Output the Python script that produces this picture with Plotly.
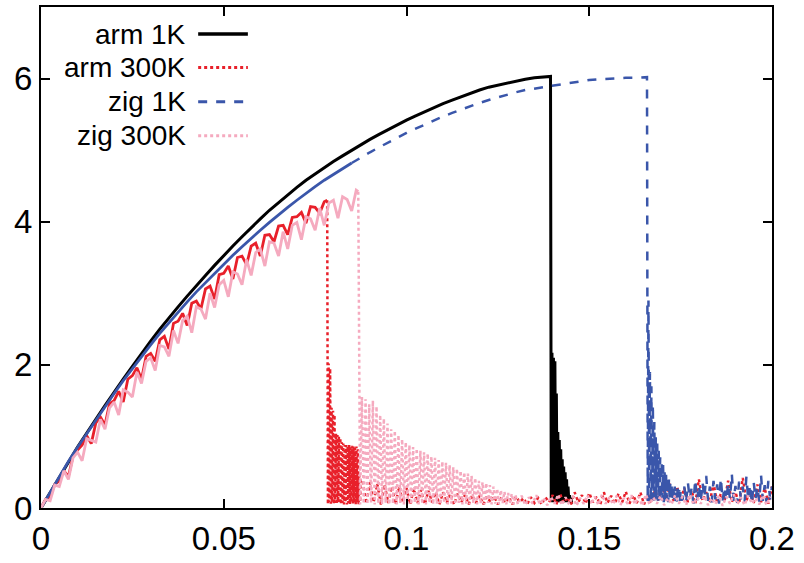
import plotly.graph_objects as go

# ---------------- data ----------------
# each series = list of segments (x_start, x_step, y_values)

arm1k_rise = [0, 0.22, 0.43, 0.64, 0.85, 1.05, 1.24, 1.43, 1.62, 1.80,
              1.98, 2.16, 2.33, 2.50, 2.66, 2.81, 2.96, 3.11, 3.25, 3.39,
              3.53, 3.66, 3.79, 3.92, 4.04, 4.16, 4.27, 4.38, 4.48, 4.58,
              4.67, 4.76, 4.84, 4.92, 5.00, 5.08, 5.15, 5.22, 5.29, 5.36,
              5.42, 5.48, 5.54, 5.60, 5.65, 5.70, 5.75, 5.80, 5.84, 5.88,
              5.91, 5.94, 5.97, 5.99, 6.01, 6.02]
arm1k_fail = [6.03, 0.10, 2.17, 0.08, 2.10, 0.12, 2.05, 0.10, 1.60, 0.08,
              1.06, 0.10, 0.95, 0.08, 0.82, 0.12, 0.68, 0.10, 0.58, 0.08,
              0.50, 0.10, 0.40, 0.08, 0.30, 0.10, 0.18, 0.08, 0.14, 0.06]

arm300k_rise = [0, 0.12, 0.16, 0.33, 0.38, 0.52, 0.44, 0.72, 0.81, 0.88,
                1.01, 0.90, 1.19, 1.27, 1.16, 1.46, 1.50, 1.63, 1.48, 1.80,
                1.85, 1.96, 1.80, 2.12, 2.16, 2.05, 2.35, 2.40, 2.22, 2.58,
                2.61, 2.72, 2.55, 2.86, 2.89, 2.78, 3.06, 3.10, 2.92, 3.26,
                3.28, 3.38, 3.20, 3.50, 3.52, 3.40, 3.66, 3.70, 3.52, 3.81,
                3.82, 3.72, 3.94, 3.95, 3.82, 4.06, 4.07, 4.13, 3.98, 4.21,
                4.20, 4.12, 4.28]
arm300k_fail = [4.30, 0.05, 2.02, 0.08, 1.95, 0.06, 1.40, 0.08, 1.36, 0.05,
                1.30, 0.07, 1.04, 0.05, 1.02, 0.08, 1.00, 0.06, 0.98, 0.05,
                0.92, 0.07, 0.90, 0.05, 0.88, 0.08, 0.88, 0.05, 0.86, 0.07,
                0.88, 0.05, 0.85, 0.08, 0.87, 0.05, 0.86, 0.07, 0.84, 0.05,
                0.86, 0.08, 0.82, 0.05, 0.45, 0.08, 0.40]
arm300k_tail = [0.38, 0.06, 0.36, 0.08, 0.34, 0.05, 0.33, 0.07, 0.30, 0.05,
                0.30, 0.08, 0.28, 0.05, 0.27, 0.07, 0.25, 0.05, 0.24, 0.08,
                0.22, 0.05, 0.22, 0.07, 0.20, 0.05, 0.20, 0.08, 0.18, 0.05,
                0.18, 0.07, 0.17, 0.05, 0.16, 0.08, 0.16, 0.05, 0.15, 0.07,
                0.15, 0.05, 0.16, 0.08, 0.14, 0.05, 0.15, 0.07, 0.14, 0.05,
                0.15, 0.08, 0.18, 0.05, 0.20, 0.07, 0.15, 0.05, 0.22, 0.08,
                0.18, 0.06, 0.21, 0.08, 0.16, 0.05, 0.22, 0.07, 0.17, 0.06,
                0.20, 0.08, 0.23, 0.06, 0.18, 0.07, 0.22, 0.05, 0.20, 0.08,
                0.25, 0.10, 0.32, 0.12, 0.34, 0.10, 0.30, 0.12, 0.28, 0.08,
                0.25, 0.06, 0.40, 0.10, 0.22, 0.08, 0.35, 0.06, 0.20, 0.10,
                0.38, 0.08, 0.22, 0.06, 0.42, 0.10, 0.25, 0.07, 0.33, 0.08,
                0.28, 0.06, 0.30]

zig1k_rise = [0, 0.22, 0.44, 0.65, 0.85, 1.04, 1.23, 1.42, 1.60, 1.78,
              1.95, 2.12, 2.28, 2.44, 2.59, 2.74, 2.88, 3.02, 3.15, 3.28,
              3.41, 3.53, 3.65, 3.77, 3.88, 3.99, 4.10, 4.20, 4.30, 4.40,
              4.49, 4.58, 4.66, 4.74, 4.82, 4.90, 4.97, 5.04, 5.11, 5.18,
              5.24, 5.30, 5.36, 5.42, 5.47, 5.52, 5.57, 5.62, 5.66, 5.70,
              5.74, 5.78, 5.81, 5.84, 5.86, 5.89, 5.91, 5.93, 5.95, 5.97,
              5.98, 5.99, 6.00, 6.00, 6.01, 6.01, 6.02]
zig1k_fail = [6.02, 0.08, 2.90, 0.10, 1.90, 0.08, 1.70, 0.12, 1.45, 0.10,
              1.20, 0.08, 0.99, 0.12, 0.90, 0.10, 0.80, 0.08, 0.71, 0.12,
              0.65, 0.10, 0.60, 0.08, 0.53, 0.12, 0.48, 0.10, 0.44, 0.08,
              0.40, 0.12, 0.37, 0.10, 0.35, 0.08, 0.32, 0.12, 0.30, 0.10,
              0.28, 0.08, 0.27, 0.12, 0.25, 0.10, 0.25]
zig1k_tail = [0.10, 0.30, 0.08, 0.35, 0.12, 0.28, 0.06, 0.40, 0.10, 0.32,
              0.08, 0.36, 0.14, 0.45, 0.10, 0.30, 0.08, 0.38, 0.12, 0.33,
              0.06, 0.42, 0.10, 0.30, 0.09, 0.35, 0.13, 0.48, 0.10, 0.31,
              0.07, 0.37, 0.12, 0.30, 0.08, 0.44, 0.11, 0.33, 0.06, 0.36,
              0.12, 0.30, 0.09, 0.46, 0.10, 0.32, 0.08, 0.38, 0.12, 0.30]

zig300k_rise = [0, 0.12, 0.10, 0.32, 0.30, 0.52, 0.40, 0.70, 0.78, 0.66,
                0.97, 0.95, 0.92, 1.24, 1.10, 1.40, 1.48, 1.30, 1.65, 1.62,
                1.55, 1.90, 1.74, 2.05, 2.10, 1.92, 2.27, 2.25, 2.12, 2.48,
                2.30, 2.62, 2.68, 2.45, 2.81, 2.78, 2.64, 3.00, 2.80, 3.12,
                3.18, 2.95, 3.30, 3.27, 3.12, 3.47, 3.25, 3.57, 3.62, 3.38,
                3.72, 3.70, 3.52, 3.86, 3.62, 3.95, 3.99, 3.75, 4.07, 4.04,
                3.88, 4.19, 3.95, 4.26, 4.30, 4.05, 4.35, 4.31, 4.15, 4.44]
zig300k_fail = [4.42, 0.05, 1.55, 0.06, 1.52, 0.05, 1.45, 0.07, 1.50, 0.05,
                1.42, 0.06, 1.30, 0.05, 1.25, 0.07, 1.18, 0.05, 1.10, 0.06,
                1.08, 0.05, 1.02, 0.07, 0.96, 0.05, 0.92, 0.06, 0.88, 0.05,
                0.85, 0.07, 0.83, 0.05, 0.80, 0.06, 0.78, 0.05, 0.76, 0.07,
                0.72, 0.05, 0.70, 0.06, 0.67, 0.05, 0.65, 0.07, 0.63, 0.05,
                0.60, 0.06, 0.57, 0.05, 0.55, 0.07, 0.52, 0.05, 0.50, 0.06,
                0.48, 0.05, 0.45, 0.07, 0.42, 0.05, 0.38, 0.06, 0.36, 0.05,
                0.35, 0.07, 0.32, 0.05, 0.30, 0.06, 0.27, 0.05, 0.25, 0.07,
                0.23, 0.05, 0.21, 0.06, 0.20, 0.05, 0.18]
zig300k_tail = [0.05, 0.17, 0.04, 0.15, 0.06, 0.18, 0.05, 0.14, 0.04, 0.16,
                0.06, 0.19, 0.04, 0.15, 0.05, 0.17, 0.03, 0.14, 0.06, 0.18,
                0.05, 0.16, 0.04, 0.19, 0.06, 0.15, 0.05, 0.17, 0.04, 0.14,
                0.06, 0.18, 0.05, 0.16, 0.03, 0.19, 0.05, 0.15, 0.06, 0.17,
                0.04, 0.14, 0.05, 0.18, 0.06, 0.16, 0.04, 0.19, 0.05, 0.15,
                0.06, 0.17, 0.04, 0.14, 0.05, 0.18, 0.03, 0.16, 0.06, 0.19,
                0.05, 0.15, 0.04, 0.17, 0.06, 0.14, 0.05, 0.18, 0.04, 0.16]

# name, segments, number of leading points that look solid (dense noise)
series = [
    ("arm 1K", [(0.0, 0.0025, arm1k_rise), (0.1394, 0.0002, arm1k_fail)], None),
    ("arm 300K", [(0.0, 0.00125, arm300k_rise), (0.0783, 0.0002, arm300k_fail),
                  (0.088, 0.001, arm300k_tail)], len(arm300k_rise) + 1),
    ("zig 1K", [(0.0, 0.0025, zig1k_rise), (0.1658, 0.0002, zig1k_fail),
                (0.1755, 0.0005, zig1k_tail)], 35),
    ("zig 300K", [(0.0, 0.00125, zig300k_rise), (0.0868, 0.0005, zig300k_fail),
                  (0.1305, 0.001, zig300k_tail)], len(zig300k_rise) + 1),
]

x_ticks = [0, 0.05, 0.1, 0.15, 0.2]
y_ticks = [0, 2, 4, 6]

styles = {
    "arm 1K": dict(color="#000000", width=3, dash="solid"),
    "arm 300K": dict(color="#e8202a", width=2.5, dash="dot"),
    "zig 1K": dict(color="#3a56aa", width=2.5, dash="dash"),
    "zig 300K": dict(color="#f5aabf", width=2.5, dash="dot"),
}


def build(segs):
    xs, ys = [], []
    for x0, dx, vals in segs:
        for i, v in enumerate(vals):
            xs.append(round(x0 + i * dx, 6))
            ys.append(v)
    return xs, ys


fig = go.Figure()
for name, segs, nsolid in series:
    xs, ys = build(segs)
    st = styles[name]
    if nsolid is None:
        fig.add_trace(go.Scatter(x=xs, y=ys, mode="lines", name=name,
                                 line=st, showlegend=False))
    else:
        fig.add_trace(go.Scatter(x=xs[:nsolid], y=ys[:nsolid], mode="lines",
                                 name=name,
                                 line=dict(color=st["color"], width=2.8,
                                           dash="solid"),
                                 showlegend=False))
        fig.add_trace(go.Scatter(x=xs[nsolid - 1:], y=ys[nsolid - 1:],
                                 mode="lines", name=name, line=st,
                                 showlegend=False))

# gnuplot-style key: right-aligned text, sample line to the right
key_y = [0.946, 0.879, 0.811, 0.743]
for (name, _, _), ky in zip(series, key_y):
    fig.add_annotation(xref="paper", yref="paper", x=0.201, y=ky,
                       text=name, showarrow=False, xanchor="right",
                       yanchor="middle",
                       font=dict(family="Liberation Sans, Arial", size=28,
                                 color="#000000"))
    st = styles[name]
    fig.add_shape(type="line", xref="paper", yref="paper",
                  x0=0.215, x1=0.283, y0=ky, y1=ky,
                  line=dict(color=st["color"], width=st["width"] + 0.5,
                            dash=st["dash"]))

axis_common = dict(showgrid=False, zeroline=False, showline=True,
                   linecolor="#000000", linewidth=2, mirror="ticks",
                   ticks="inside", ticklen=9, tickwidth=1.5,
                   tickcolor="#000000",
                   tickfont=dict(family="Liberation Sans, Arial", size=33,
                                 color="#000000"))

fig.update_xaxes(range=[0, 0.2], tickvals=x_ticks,
                 ticktext=[str(v) for v in x_ticks], **axis_common)
fig.update_yaxes(range=[0, 7], tickvals=y_ticks,
                 ticktext=[str(v) for v in y_ticks], **axis_common)

fig.update_layout(width=804, height=563,
                  margin=dict(l=41, r=32, t=5, b=55),
                  paper_bgcolor="white", plot_bgcolor="white",
                  showlegend=False)

fig.write_html("out.html")
